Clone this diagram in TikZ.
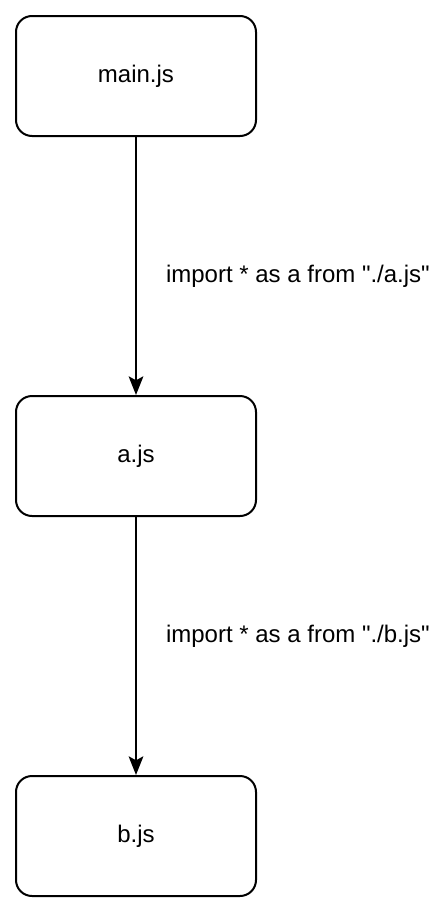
\documentclass[tikz,border=0pt]{standalone}
\usepackage{fontspec}
\setmainfont{Liberation Sans}
\usetikzlibrary{arrows.meta}
\begin{document}
\begin{tikzpicture}[x=0.75pt,y=-0.75pt,>={Stealth[length=14pt,width=11pt,inset=3pt]},
		jsbox/.style={draw,line width=1.5pt,rounded corners=12pt,minimum width=180pt,minimum height=90pt,font=\fontsize{18}{18}\selectfont},
		importlabel/.style={anchor=west,inner sep=0pt,xshift=21.75pt,font=\fontsize{18}{18}\selectfont}]
				\useasboundingbox (0,0) rectangle (444,914);
				\node[jsbox] (mainjs) at (136,76) {main.js};
				\node[jsbox] (ajs) at (136,456) {a.js};
				\node[jsbox] (bjs) at (136,836) {b.js};
				\draw[->,line width=1.5pt] (mainjs) -- node[importlabel,pos=0.538]{import * as a from \textquotedbl./a.js\textquotedbl} (ajs);
				\draw[->,line width=1.5pt] (ajs) -- node[importlabel,pos=0.462]{import * as a from \textquotedbl./b.js\textquotedbl} (bjs);
			\end{tikzpicture}
\end{document}
